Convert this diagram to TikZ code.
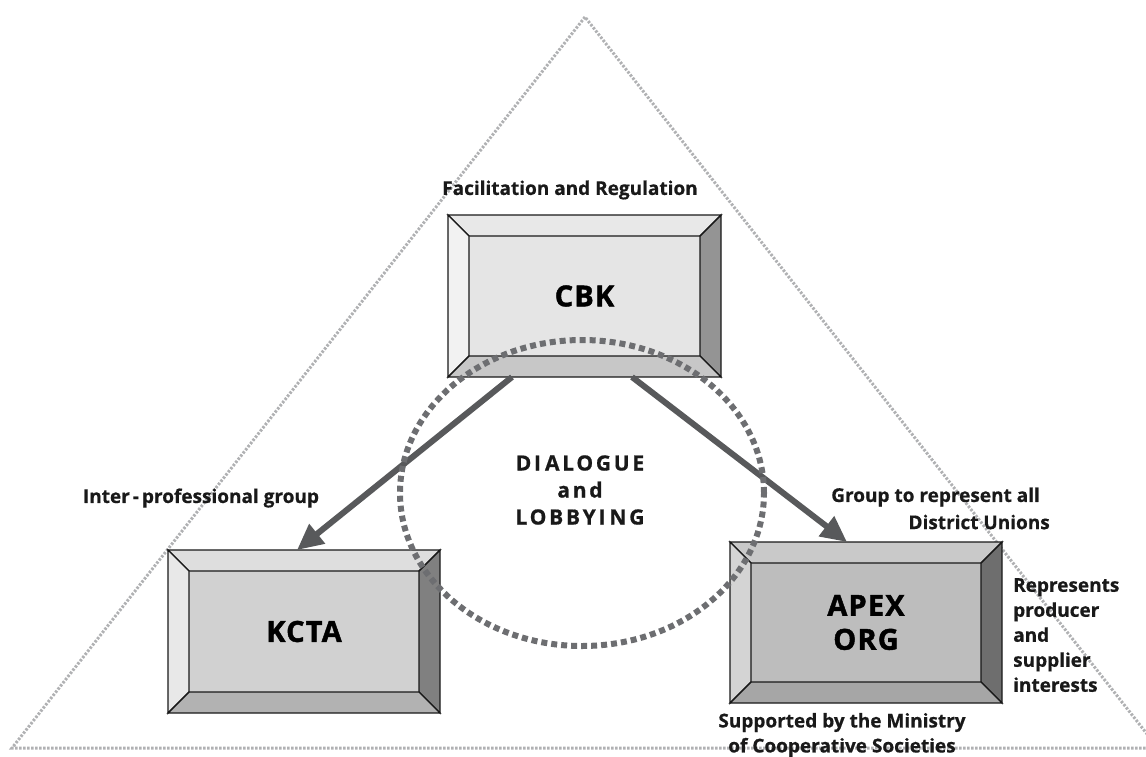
\documentclass[tikz,border=0pt]{standalone}
\usepackage{fontspec}
\setsansfont{Open Sans}
\usetikzlibrary{arrows.meta,calc,shapes.geometric}
\definecolor{trigray}{HTML}{B0B1B3}
\definecolor{ellgray}{HTML}{6D6E71}
\definecolor{arrgray}{HTML}{58595B}
\newcommand\bevelbox[6]{%
  \coordinate (#1-a) at ($(#1.north west)+(#6,#6)$);
  \coordinate (#1-b) at ($(#1.north east)+(-#6,#6)$);
  \coordinate (#1-c) at ($(#1.south east)+(-#6,-#6)$);
  \coordinate (#1-d) at ($(#1.south west)+(#6,-#6)$);
  \filldraw[face,fill=#2] (#1.north west) -- (#1.north east) -- (#1-b) -- (#1-a) -- cycle;
  \filldraw[face,fill=#3] (#1.north west) -- (#1-a) -- (#1-d) -- (#1.south west) -- cycle;
  \filldraw[face,fill=#4] (#1.north east) -- (#1.south east) -- (#1-c) -- (#1-b) -- cycle;
  \filldraw[face,fill=#5] (#1.south west) -- (#1-d) -- (#1-c) -- (#1.south east) -- cycle;
}
\begin{document}
\begin{tikzpicture}[x=1pt,y=-1pt,
  tri/.style={draw=trigray, line width=3pt, dash pattern=on 2.4pt off 1.6pt},
  ell/.style={draw=ellgray, line width=6pt, dash pattern=on 6pt off 4pt},
  arr/.style={draw=arrgray, line width=6pt, -{Triangle[length=26pt,width=24pt]}},
  face/.style={draw=black!90, line width=1.4pt, line join=miter},
  boxnode/.style={minimum width=272pt, minimum height=162pt, inner sep=0pt, outer sep=0pt},
  boxtext/.style={font=\sffamily\bfseries\fontsize{29}{34}\selectfont\addfontfeature{FakeBold=1.5,LetterSpace=4}, align=center, text=black},
  lbl/.style={font=\sffamily\bfseries\fontsize{19}{25}\selectfont\addfontfeature{FakeBold=0.6}, inner sep=0pt, text=black!90},
  dlgfont/.style={font=\sffamily\bfseries\fontsize{21}{27}\selectfont\addfontfeature{LetterSpace=13,FakeBold=0.8}}
]
\useasboundingbox (0,0) rectangle (1146,756);
\clip (0,0) rectangle (1146,756);
% triangle frame
\draw[tri] (585,17) -- (12,748) -- (1158,748) -- cycle;
% boxes
\node[boxnode, fill=black!10, minimum width=273pt] (cbk) at (584.5,296) {};
\bevelbox{cbk}{black!9}{black!5}{black!42}{black!22}{21}
\node[boxtext] (cbkt) at (cbk) {CBK};
\node[boxnode, fill=black!18, minimum height=163pt] (kcta) at (304,631.5) {};
\bevelbox{kcta}{black!13}{black!9}{black!50}{black!30}{21}
\node[boxtext] (kctat) at (kcta) {KCTA};
\node[boxnode, fill=black!26, minimum height=161pt] (apex) at (866,622.5) {};
\bevelbox{apex}{black!21}{black!17}{black!57}{black!35}{21}
\node[boxtext] (apext) at (apex) {APEX\\ORG};
% arrows
\draw[arr] ($(cbk.south west)+(64,0)$) -- ($(kcta.north west)+(129,0)$);
\draw[arr] ($(cbk.south west)+(184,0)$) -- ($(apex.north west)+(117,0)$);
% dialogue ellipse
\node[ell, ellipse, minimum width=364pt, minimum height=306pt, inner sep=0pt] (dlg) at (582,493) {};
\node[dlgfont, align=center, text=black!90] (dlgtext) at (580,490) {DI\kern4pt ALOGUE\\and\\LOBBYI\kern4pt NG};
% labels
\node[lbl] (fac) at (570,190) {Facilitation and Regulation};
\node[lbl] (inter) at (201,498) {Inter\kern3pt-\kern3pt professional group};
\node[lbl, anchor=east] (grp1) at (1040,497) {Group to represent all};
\node[lbl, anchor=east] (grp2) at (1050,522) {District Unions};
\node[lbl, anchor=north west, align=left] (rep) at (1013,578) {Represents\\producer\\and\\supplier\\interests};
\node[lbl, align=center] (sup) at (842,735) {Supported by the Ministry\\of Cooperative Societies};
\end{tikzpicture}
\end{document}
